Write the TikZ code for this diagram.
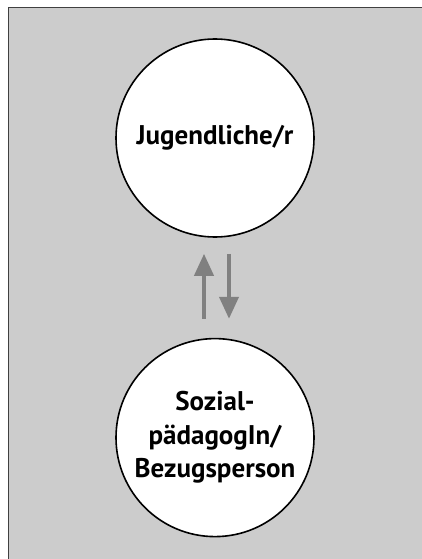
\documentclass[tikz,border=0pt]{standalone}
\usepackage{fontspec}
\setmainfont{PT Sans}
\usetikzlibrary{positioning,arrows.meta}

\definecolor{panelgray}{HTML}{CCCCCC}
\definecolor{arrowgray}{HTML}{808080}

\tikzstyle{person} = [circle, minimum size=198pt, inner sep=0pt, draw=black, line width=1.6pt, fill=white, text centered, align=center, font=\fontsize{27}{33.5}\selectfont\bfseries]
\tikzstyle{arrow} = [draw=arrowgray, line width=4pt, -{Triangle[width=19pt,length=22pt]}]

\begin{document}
\begin{tikzpicture}[x=1pt, y=1pt]
			
			\useasboundingbox (0,0) rectangle (422,-559);
			\clip (0,0) rectangle (422,-559);
			\draw [fill=panelgray, draw=black!75, line width=1.5pt] (8.5,-7.5) rectangle (430,-570);
			
			\node (youth) [person] at (215,-138) {Jugendliche/r};
			\node (carer) [person, below=100pt of youth] {Sozial-\\pädagogIn/\\Bezugsperson};
			
			\draw [arrow, shorten <=19pt, shorten >=16pt] ([xshift=-11pt]carer.north) -- ([xshift=-11pt]youth.south);
			\draw [arrow, shorten <=16pt, shorten >=19pt] ([xshift=14pt]youth.south) -- ([xshift=14pt]carer.north);
			
		\end{tikzpicture}
\end{document}
